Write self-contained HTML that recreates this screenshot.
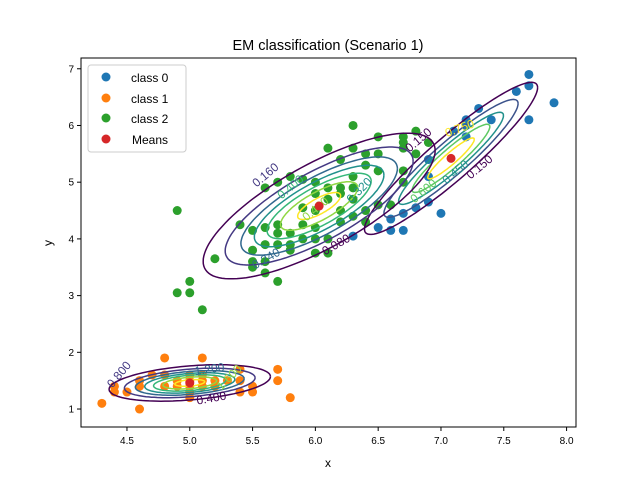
<!DOCTYPE html>
<html><head><meta charset="utf-8"><style>
body{margin:0;background:#fff}
svg{font-family:"Liberation Sans","DejaVu Sans",sans-serif}
</style></head><body>
<svg id="chart" width="640" height="480" viewBox="0 0 640 480" xmlns="http://www.w3.org/2000/svg">
<rect width="640" height="480" fill="#fff"/>
<defs><clipPath id="pc"><rect x="81" y="58" width="495" height="369"/></clipPath></defs>
<g id="points" clip-path="url(#pc)"></g>
<g id="contours" clip-path="url(#pc)"></g>
<g id="means"></g>
<rect x="81" y="58" width="495" height="369" fill="none" stroke="#000" stroke-width="1"/>
<g id="axes"></g>
<text x="328" y="50" text-anchor="middle" font-size="14.5">EM classification (Scenario 1)</text>
<text x="328" y="467" text-anchor="middle" font-size="12">x</text>
<text x="52" y="243" text-anchor="middle" font-size="12" transform="rotate(-90 52 243)">y</text>
<g>
<rect x="88" y="65" width="98" height="87" rx="3" fill="#fff" fill-opacity="0.8" stroke="#ccc"/>
<g><circle cx="106" cy="77" r="4.5" fill="#1f77b4"/><text x="131" y="82" font-size="12">class 0</text></g>
<g><circle cx="106" cy="98" r="4.5" fill="#ff7f0e"/><text x="131" y="103" font-size="12">class 1</text></g>
<g><circle cx="106" cy="118" r="4.5" fill="#2ca02c"/><text x="131" y="123" font-size="12">class 2</text></g>
<g><circle cx="106" cy="139" r="4.5" fill="#d62728"/><text x="132" y="144" font-size="12">Means</text></g>
</g>
</svg>
<script>
const xTicks=[4.5,5.0,5.5,6.0,6.5,7.0,7.5,8.0];
const xTickLabels=["4.5","5.0","5.5","6.0","6.5","7.0","7.5","8.0"];
const yTicks=[1,2,3,4,5,6,7];
const yTickLabels=["1","2","3","4","5","6","7"];
const class0X=[6.3,6.5,6.6,6.7,6.7,6.6,6.8,6.9,7.0,6.9,6.9,7.1,7.2,7.2,7.3,7.4,7.6,7.7,7.7,7.7,7.9,7.2];
const class0Y=[4.05,4.2,4.35,4.45,4.15,4.15,4.55,4.65,4.45,5.1,5.4,5.9,5.8,6.1,6.3,6.1,6.6,6.9,6.7,6.1,6.4,6.0];
const class1X=[4.3,4.4,4.4,4.5,4.6,4.6,4.7,4.8,4.8,4.8,4.9,4.9,5.0,5.0,5.0,5.1,5.1,5.1,5.2,5.2,5.3,5.4,5.4,5.4,5.5,5.5,5.7,5.7,5.8,5.0,5.1,4.6,5.0];
const class1Y=[1.1,1.4,1.3,1.3,1.0,1.4,1.6,1.9,1.6,1.4,1.5,1.4,1.6,1.2,1.4,1.9,1.5,1.4,1.5,1.4,1.5,1.7,1.5,1.3,1.4,1.3,1.7,1.5,1.2,1.5,1.6,1.5,1.3];
const class2X=[4.9,5.0,5.0,5.1,4.9,5.2,5.4,5.5,5.5,5.5,5.5,5.6,5.6,5.6,5.6,5.6,5.7,5.7,5.7,5.7,5.7,5.8,5.8,5.8,5.8,5.9,5.9,5.9,5.9,6.0,6.0,6.0,6.0,6.0,6.1,6.1,6.1,6.1,6.1,6.2,6.2,6.2,6.2,6.3,6.3,6.3,6.3,6.3,6.3,6.4,6.4,6.4,6.4,6.5,6.5,6.5,6.5,6.6,6.7,6.7,6.7,6.7,6.7,6.8,6.8,6.9,6.0,6.2];
const class2Y=[3.05,3.05,3.25,2.75,4.5,3.65,4.25,4.15,3.8,3.5,3.6,4.9,4.2,3.9,3.6,3.4,5.0,4.25,4.1,3.9,3.25,5.1,4.1,3.9,3.8,5.05,4.25,4.0,4.55,5.0,4.8,4.5,4.0,3.75,5.6,4.9,4.7,4.0,3.75,5.4,4.8,4.3,4.5,6.0,5.6,5.1,4.9,4.7,4.4,5.5,5.3,4.5,4.3,5.8,5.5,5.2,4.6,4.6,5.8,5.7,5.6,5.2,5.0,5.9,5.5,5.7,4.2,4.9];
const meanX=[7.08,5.0,6.03];
const meanY=[5.42,1.46,4.58];
// gaussian contour components: sx, sy, rho, peak density
const compSx=[0.37,0.32,0.46];
const compSy=[0.72,0.16,0.64];
const compRho=[0.93,0.35,0.76];
const compPeak=[0.85,3.0,0.60];
const levels0=[0.15,0.30,0.45,0.60,0.75];
const levels1=[0.4,0.8,1.2,1.6,2.0,2.4,2.8];
const levels2=[0.08,0.16,0.24,0.32,0.40,0.48,0.56];

const X0=4.134,X1=8.075,Y0=0.683,Y1=7.19,PL=81,PR=576,PT=58,PB=427;
const sx=v=>PL+(v-X0)/(X1-X0)*(PR-PL);
const sy=v=>PB-(v-Y0)/(Y1-Y0)*(PB-PT);
const NS="http://www.w3.org/2000/svg";
function mk(tag,attrs,parent){const e=document.createElementNS(NS,tag);for(const k in attrs)e.setAttribute(k,attrs[k]);parent.appendChild(e);return e;}
const axes=document.getElementById('axes');
xTicks.forEach((t,i)=>{
  const l=mk('line',{x1:sx(t),x2:sx(t),y1:PB,y2:PB+4,stroke:'#000'},axes);
  
  
  const tx=mk('text',{x:sx(t),y:PB+17,'text-anchor':'middle','font-size':'10'},axes);
  tx.textContent=xTickLabels[i];
  
  
});
yTicks.forEach((t,i)=>{
  const l=mk('line',{x1:PL-4,x2:PL,y1:sy(t),y2:sy(t),stroke:'#000'},axes);
  
  
  const tx=mk('text',{x:PL-7,y:sy(t)+3.5,'text-anchor':'end','font-size':'10'},axes);
  tx.textContent=yTickLabels[i];
  
  
});
const pts=document.getElementById('points');
function scatter(xs,ys,color,name){
  xs.forEach((x,i)=>{
    const c=mk('circle',{cx:sx(x),cy:sy(ys[i]),r:4.5,fill:color},pts);
    
    
  });
}
scatter(class0X,class0Y,'#1f77b4','class-0-point');
scatter(class1X,class1Y,'#ff7f0e','class-1-point');
scatter(class2X,class2Y,'#2ca02c','class-2-point');
const vir7=['#440154','#443983','#31688e','#21918c','#35b779','#90d743','#fde725'];
const vir5=['#440154','#3b528b','#21918c','#5ec962','#fde725'];
const cg=document.getElementById('contours');
function contours(k,levels,cols){
  levels.forEach((lv,i)=>{
    const r2=2*Math.log(compPeak[k]/lv); if(r2<=0)return;
    const r=Math.sqrt(r2),s=Math.sqrt(1-compRho[k]*compRho[k]);
    let d='';
    for(let j=0;j<=120;j++){const t=j/120*2*Math.PI;
      const x=meanX[k]+r*compSx[k]*Math.cos(t);
      const y=meanY[k]+r*compSy[k]*(compRho[k]*Math.cos(t)+s*Math.sin(t));
      d+=(j?'L':'M')+sx(x).toFixed(1)+' '+sy(y).toFixed(1);}
    const p=mk('path',{d:d,fill:'none',stroke:cols[i],'stroke-width':1.5},cg);
    
    
  });
}
contours(0,levels0,vir5);
contours(1,levels1,vir7);
contours(2,levels2,vir7);
const labs=[[212,402,-10,'0.400','#440154'],[122,377,-50,'0.800','#443983'],[210,373,-8,'1.200','#31688e'],[232,380,-45,'1.600','#90d743'],
[268,178,-40,'0.160','#443983'],[293,190,-40,'0.400','#35b779'],[318,212,-40,'0.480','#90d743'],[362,193,-45,'0.320','#21918c'],[268,262,-30,'0.240','#31688e'],[338,248,-30,'0.080','#440154'],
[421,143,-40,'0.150','#440154'],[461,132,-20,'0.750','#fde725'],[426,194,-40,'0.600','#5ec962'],[458,175,-40,'0.450','#21918c'],[482,170,-40,'0.150','#440154']];
labs.forEach(a=>{
  const t=mk('text',{x:a[0],y:a[1],fill:a[4],'font-size':'12','text-anchor':'middle',transform:`rotate(${a[2]} ${a[0]} ${a[1]})`},cg);
  t.textContent=a[3];
  
  
});
const mg=document.getElementById('means');
meanX.forEach((x,i)=>{
  const c=mk('circle',{cx:sx(x),cy:sy(meanY[i]),r:4.5,fill:'#d62728'},mg);
  
  
});
</script>
</body></html>
